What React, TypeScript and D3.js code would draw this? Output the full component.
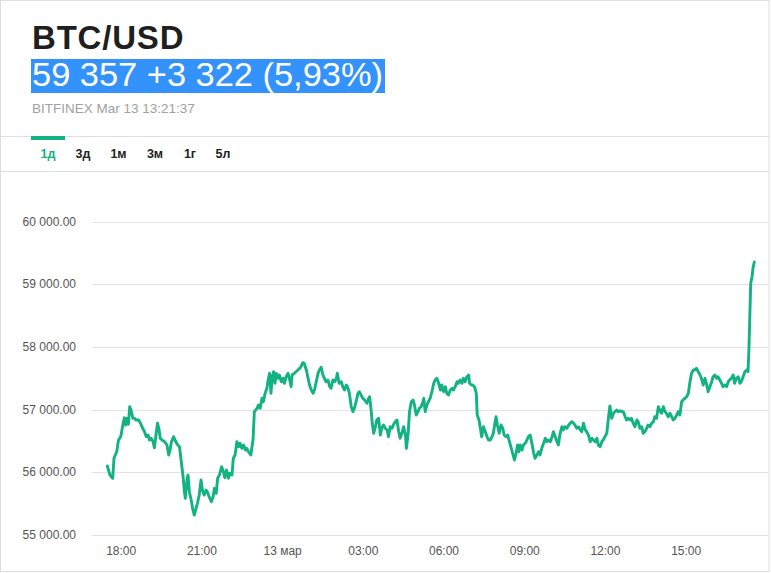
import React from "react";
import * as d3 from "d3";

const W = 771;
const H = 573;

const title = "BTC/USD";
const quote = "59 357 +3 322 (5,93%)";
const source = "BITFINEX Mar 13 13:21:37";
const tabs = ["1д", "3д", "1м", "3м", "1г", "5л"];
const yTicks = [55000, 56000, 57000, 58000, 59000, 60000];
const xTickHours = [18, 21, 24, 27, 30, 33, 36, 39];
const xTickLabels = ["18:00", "21:00", "13 мар", "03:00", "06:00", "09:00", "12:00", "15:00"];

// minutes after 12 Mar 18:00
const minutes = [
  -31, -25, -19, -16, -10, -6, -1, 3, 7, 10, 13, 16, 19, 22, 26, 30, 33, 39, 43, 48, 52, 56, 60, 63, 67, 71, 74, 78, 81, 84, 87, 91, 97, 102, 106, 109, 112, 117, 121, 126, 130, 134, 138, 141, 143, 147, 149, 152, 156, 160, 163, 167, 170, 174, 178, 181, 185, 189, 192, 196, 201, 205, 208, 212, 215, 219, 224, 228, 231, 235, 239, 242, 247, 250,
  254, 258, 262, 265, 269, 273, 277, 280, 284, 289, 294, 297, 303, 306, 310, 314, 317, 321, 325, 327, 331, 334, 337, 340, 343, 346, 350, 353, 357, 361, 364, 368, 372, 375, 379, 381, 386, 390, 394, 398, 401, 405, 408, 413, 416, 420, 424, 428, 431, 435, 439, 442, 446, 450, 453, 457, 461, 465, 468, 472, 476, 480, 482, 486, 491, 494, 498, 502, 506, 509, 513, 517, 520, 524, 528, 531, 535, 539, 543,
  548, 552, 554, 557, 560, 563, 567, 570, 574, 578, 581, 585, 589, 593, 596, 600, 604, 607, 611, 615, 619, 622, 626, 630, 634, 636, 640, 643, 647, 651, 654, 658, 662, 665, 669, 673, 675, 678, 682, 685, 689, 693, 697, 700, 704, 708, 712, 715, 719, 723, 726, 730, 734, 738, 741, 745, 749, 752, 756, 760, 763, 767, 771, 775, 777, 781, 784, 788, 792, 794, 798, 801, 804, 808, 812, 816, 819, 823,
  827, 830, 834, 836, 839, 843, 847, 851, 854, 858, 862, 865, 869, 873, 877, 880, 884, 887, 890, 894, 897, 901, 905, 908, 912, 916, 920, 923, 927, 931, 934, 938, 942, 946, 949, 953, 957, 961, 964, 968, 972, 975, 979, 983, 986, 990, 994, 998, 1001, 1005, 1009, 1012, 1016, 1020, 1024, 1027, 1031, 1035, 1038, 1042, 1046, 1050, 1053, 1057, 1061, 1064, 1068, 1072, 1075, 1079, 1083, 1087, 1090, 1094, 1098, 1101, 1105, 1109, 1113, 1116, 1120, 1124,
  1127, 1131, 1135, 1138, 1142, 1146, 1150, 1153, 1157, 1161, 1164, 1168, 1172, 1175, 1179, 1183, 1187, 1190, 1194, 1198, 1201, 1205, 1209, 1213, 1216, 1220, 1224, 1228, 1231, 1235, 1239, 1242, 1246, 1250, 1253, 1257, 1261, 1265, 1268, 1272, 1276, 1279, 1283, 1287, 1291, 1294, 1298, 1302, 1305, 1309, 1313, 1317, 1320, 1324, 1328, 1331, 1335, 1339, 1342, 1346, 1350, 1354, 1357, 1361, 1365, 1368, 1372, 1376, 1380, 1383, 1387, 1391, 1395, 1398, 1400, 1402, 1404, 1407, 1409, 1412,
];

const prices = [
  56101, 55957, 55905, 56229, 56329, 56516, 56569, 56728, 56872, 56755, 56862, 56766, 57047, 56995, 56862, 56862, 56835, 56835, 56783, 56703, 56648, 56569, 56596, 56516, 56543, 56489, 56393, 56623, 56783, 56703, 56543, 56516, 56489, 56436, 56277, 56356, 56489, 56569, 56500, 56436, 56409, 56170, 55930, 55691, 55585, 55905, 55957, 55691, 55558, 55399, 55319, 55426, 55506, 55638, 55878, 55718, 55638, 55718, 55691, 55611, 55531, 55611, 55745, 55665, 55905, 55957, 56090, 56010, 55914, 56037, 55905, 55984, 55957, 56224,
  56277, 56489, 56409, 56463, 56383, 56436, 56356, 56383, 56329, 56277, 56516, 56968, 57022, 57075, 57022, 57181, 57127, 57261, 57341, 57446, 57580, 57261, 57526, 57606, 57421, 57580, 57501, 57553, 57446, 57501, 57421, 57526, 57580, 57501, 57367, 57553, 57580, 57606, 57633, 57660, 57686, 57750, 57740, 57633, 57526, 57394, 57314, 57261, 57314, 57446, 57580, 57633, 57676, 57553, 57501, 57446, 57474, 57367, 57341, 57474, 57446, 57501, 57580, 57421, 57446, 57367, 57314, 57394, 57341, 57261, 57047, 56968, 57022, 57127, 57261, 57287, 57234, 57181, 57154,
  57102, 57181, 57207, 57022, 56783, 56623, 56728, 56835, 56862, 56596, 56703, 56755, 56703, 56676, 56569, 56728, 56703, 56755, 56808, 56835, 56648, 56543, 56623, 56728, 56596, 56383, 56623, 56968, 57127, 57154, 57075, 56915, 56968, 57022, 57047, 57127, 57181, 56968, 57075, 57127, 57181, 57287, 57421, 57474, 57501, 57421, 57314, 57394, 57287, 57367, 57261, 57234, 57314, 57341, 57314, 57367, 57446, 57421, 57474, 57421, 57501, 57446, 57526, 57553, 57421, 57394, 57394, 57367, 57261, 56915, 56835, 56703, 56569, 56728, 56648, 56569, 56516, 56516,
  56569, 56623, 56808, 56888, 56755, 56623, 56755, 56703, 56596, 56569, 56596, 56516, 56409, 56304, 56197, 56277, 56436, 56329, 56436, 56356, 56436, 56463, 56516, 56569, 56596, 56463, 56304, 56224, 56277, 56329, 56277, 56383, 56463, 56543, 56489, 56516, 56489, 56569, 56648, 56569, 56489, 56436, 56623, 56728, 56676, 56728, 56703, 56755, 56783, 56808, 56783, 56755, 56703, 56728, 56676, 56648, 56783, 56676, 56648, 56596, 56489, 56543, 56516, 56489, 56543, 56436, 56409, 56489, 56516, 56569, 56623, 56888, 57059, 56862, 56942, 56968, 56995, 56968, 56984, 56968, 56968, 56888,
  56835, 56862, 56835, 56862, 56783, 56728, 56835, 56808, 56703, 56728, 56623, 56648, 56703, 56755, 56728, 56783, 56808, 56888, 56862, 57047, 56995, 56942, 57047, 56968, 56942, 56888, 56942, 56888, 56835, 56862, 56915, 56968, 56915, 57127, 57154, 57181, 57207, 57261, 57421, 57580, 57633, 57633, 57660, 57606, 57553, 57501, 57394, 57501, 57421, 57287, 57367, 57446, 57526, 57553, 57501, 57526, 57474, 57421, 57367, 57394, 57367, 57446, 57474, 57501, 57553, 57421, 57501, 57526, 57421, 57446, 57526, 57606, 57633, 57606, 57952, 58484, 59017, 59122, 59256, 59357,
];

const BASE = new Date(2021, 2, 12, 18, 0, 0).getTime();
const toDate = (m: number) => new Date(BASE + m * 60000);

const GREEN = "#13b283";
const FONT = "'Liberation Sans', Arial, sans-serif";

export default function App() {
  const data = minutes.map((m, i) => ({ t: toDate(m), v: prices[i] }));
  const x = d3
    .scaleTime()
    .domain(d3.extent(data, (d) => d.t) as [Date, Date])
    .range([107.3, 754.3]);
  const y = d3.scaleLinear().domain([55000, 60000]).range([535, 221.7]);
  const loc = d3.formatLocale({ decimal: ".", thousands: " ", grouping: [3], currency: ["", ""] });
  const fmt = loc.format(",.2f");
  const line = d3
    .line<{ t: Date; v: number }>()
    .x((d) => x(d.t))
    .y((d) => y(d.v));

  const tabX = [48, 83, 118.5, 155, 190, 223];

  return (
    <svg
      width={W}
      height={H}
      style={{ position: "absolute", left: 0, top: 0, background: "#fff" }}
      fontFamily={FONT}
    >
      <rect x={0.5} y={0.5} width={768.5} height={571} fill="#fff" stroke="#dedede" />
      <text x={32} y={48.5} fontSize={33} fontWeight="bold" fill="#1f1f1f" letterSpacing={0.8}>
        {title}
      </text>
      <rect x={31} y={59} width={354} height={34} fill="#3392fb" />
      <text x={32} y={86} fontSize={33.5} fill="#fff" textLength={351} lengthAdjust="spacingAndGlyphs">
        {quote}
      </text>
      <text x={32} y={113} fontSize={13.5} fill="#a0a0a0">
        {source}
      </text>
      <line x1={0} x2={769} y1={136.5} y2={136.5} stroke="#dedede" />
      <rect x={31} y={136} width={34} height={4} fill={GREEN} />
      {tabs.map((t, i) => (
        <text
          key={t}
          x={tabX[i]}
          y={158}
          fontSize={12.5}
          fontWeight="bold"
          textAnchor="middle"
          fill={i === 0 ? GREEN : "#222"}
        >
          {t}
        </text>
      ))}
      <line x1={0} x2={769} y1={171.5} y2={171.5} stroke="#dedede" />
      {yTicks.map((v) => (
        <g key={v}>
          <line x1={92} x2={768} y1={Math.round(y(v)) + 0.5} y2={Math.round(y(v)) + 0.5} stroke="#e3e3e3" />
          <text x={76} y={y(v) + 4} fontSize={12} textAnchor="end" fill="#555">
            {fmt(v)}
          </text>
        </g>
      ))}
      {xTickHours.map((h, i) => (
        <text
          key={h}
          x={x(new Date(BASE + (h - 18) * 3600000))}
          y={555}
          fontSize={12}
          textAnchor="middle"
          fill="#555"
        >
          {xTickLabels[i]}
        </text>
      ))}
      <path
        d={line(data) || ""}
        fill="none"
        stroke={GREEN}
        strokeWidth={2.9}
        strokeLinejoin="round"
        strokeLinecap="round"
      />
    </svg>
  );
}
